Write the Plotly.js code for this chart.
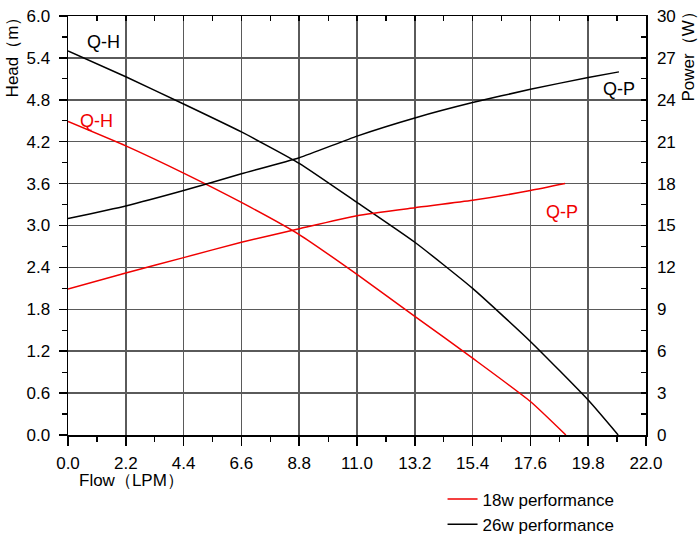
<!DOCTYPE html>
<html>
<head>
<meta charset="utf-8">
<script src="https://cdn.plot.ly/plotly-3.0.1.min.js"></script>
<style>html,body{margin:0;padding:0;background:#fff;}#chart{width:700px;height:555px;}</style>
</head>
<body>
<div id="chart"></div>
<script>
// ---- data ----
const flowH18  = [0, 2.2, 4.4, 6.6, 8.8, 11.0, 13.2, 15.4, 17.6, 18.95];
const head18   = [4.49, 4.14, 3.75, 3.33, 2.87, 2.30, 1.70, 1.10, 0.48, 0];
const flowP18  = [0, 2.2, 4.4, 6.6, 8.8, 11.0, 13.2, 15.4, 17.6, 18.92];
const power18  = [10.45, 11.6, 12.7, 13.8, 14.77, 15.7, 16.27, 16.8, 17.5, 18.0];

const flowH26  = [0, 2.2, 4.4, 6.6, 8.8, 11.0, 13.2, 15.4, 17.6, 19.8, 20.94];
const head26   = [5.50, 5.13, 4.74, 4.34, 3.89, 3.33, 2.76, 2.10, 1.34, 0.50, 0];
const flowP26  = [0, 2.2, 4.4, 6.6, 8.8, 11.0, 13.2, 15.4, 17.6, 19.8, 20.97];
const power26  = [15.5, 16.4, 17.5, 18.7, 19.85, 21.4, 22.7, 23.8, 24.75, 25.6, 26.0];

const seriesNames = ["18w performance", "26w performance"];
const curveLabels = ["Q-H", "Q-P"];
const xTitle = "Flow（LPM）";
const yTitle = "Head（m）";
const y2Title = "Power（W）";

// ---- styles ----
const RED = "rgb(240,0,0)";
const BLACK = "#000";
const FONT = "Liberation Sans, Arial, sans-serif";
const GRID = "#5a5a5a";
const SMOOTH = {shape: "spline", smoothing: 0.5};

const traces = [
  {x: flowH18, y: head18, type: "scatter", mode: "lines", name: seriesNames[0],
   line: Object.assign({color: RED, width: 1.5}, SMOOTH), legendgroup: "a", xaxis: "x", yaxis: "y"},
  {x: flowP18, y: power18, type: "scatter", mode: "lines", name: seriesNames[0],
   line: Object.assign({color: RED, width: 1.5}, SMOOTH), legendgroup: "a", showlegend: false, xaxis: "x", yaxis: "y2"},
  {x: flowH26, y: head26, type: "scatter", mode: "lines", name: seriesNames[1],
   line: Object.assign({color: BLACK, width: 1.5}, SMOOTH), legendgroup: "b", xaxis: "x", yaxis: "y"},
  {x: flowP26, y: power26, type: "scatter", mode: "lines", name: seriesNames[1],
   line: Object.assign({color: BLACK, width: 1.5}, SMOOTH), legendgroup: "b", showlegend: false, xaxis: "x", yaxis: "y2"},
  // invisible trace to activate the top mirror axis
  {x: [0], y: [0], type: "scatter", mode: "markers", marker: {opacity: 0}, showlegend: false,
   hoverinfo: "skip", xaxis: "x2", yaxis: "y"}
];

const layout = {
  width: 700, height: 555,
  paper_bgcolor: "#fff", plot_bgcolor: "#fff",
  margin: {l: 68, r: 54, t: 16, b: 117},
  font: {family: FONT, size: 17, color: "#000"},
  showlegend: true,
  legend: {x: 0.648, y: -0.111, xanchor: "left", yanchor: "top",
           font: {family: FONT, size: 17, color: "#000"}, bgcolor: "rgba(0,0,0,0)",
           tracegroupgap: 0},
  xaxis: {range: [0, 22], dtick: 2.2, tick0: 0, tickformat: ".1f",
          showline: true, linecolor: "#000", linewidth: 1.5,
          ticks: "outside", ticklen: 9, tickwidth: 1.5, tickcolor: "#000",
          minor: {dtick: 1.1, tick0: 0, ticks: "outside", ticklen: 5, tickcolor: "#000", tickwidth: 1.2, showgrid: false},
          showgrid: true, gridcolor: GRID, gridwidth: 1.5, zeroline: false,
          ticklabelstandoff: 3, fixedrange: true},
  xaxis2: {overlaying: "x", side: "top", range: [0, 22], dtick: 2.2, tick0: 0,
           showline: true, linecolor: "#000", linewidth: 1.5,
           ticks: "inside", ticklen: 5, tickwidth: 1.5, tickcolor: "#000",
           minor: {dtick: 1.1, tick0: 0, ticks: "inside", ticklen: 5, tickcolor: "#000", tickwidth: 1.2, showgrid: false},
           showticklabels: false, showgrid: false, zeroline: false},
  yaxis: {range: [0, 6], dtick: 0.6, tick0: 0, tickformat: ".1f",
          showline: true, linecolor: "#000", linewidth: 1.5,
          ticks: "outside", ticklen: 8, tickwidth: 1.5, tickcolor: "#000",
          minor: {dtick: 0.3, tick0: 0, ticks: "outside", ticklen: 5, tickcolor: "#000", tickwidth: 1.2, showgrid: false},
          showgrid: true, gridcolor: GRID, gridwidth: 1.5, zeroline: false,
          ticklabelstandoff: 5},
  yaxis2: {overlaying: "y", side: "right", range: [0, 30], dtick: 3, tick0: 0,
           showline: true, linecolor: "#000", linewidth: 1.5,
           ticks: "inside", ticklen: 5, tickwidth: 1.5, tickcolor: "#000",
           minor: {dtick: 1.5, tick0: 0, ticks: "inside", ticklen: 5, tickcolor: "#000", tickwidth: 1.2, showgrid: false},
           showgrid: false, zeroline: false, ticklabelstandoff: 6},
  annotations: [
    {text: curveLabels[0], x: 1.35, y: 5.63, xref: "x", yref: "y", showarrow: false,
     font: {family: FONT, size: 18, color: BLACK}},
    {text: curveLabels[0], x: 1.1, y: 4.5, xref: "x", yref: "y", showarrow: false,
     font: {family: FONT, size: 18, color: RED}},
    {text: curveLabels[1], x: 20.97, y: 4.96, xref: "x", yref: "y", showarrow: false,
     font: {family: FONT, size: 18, color: BLACK}},
    {text: curveLabels[1], x: 18.82, y: 3.19, xref: "x", yref: "y", showarrow: false,
     font: {family: FONT, size: 18, color: RED}},
    {text: yTitle, x: -0.096, y: 0.912, xref: "paper", yref: "paper", textangle: -90,
     xanchor: "center", yanchor: "middle", showarrow: false, font: {family: FONT, size: 17}},
    {text: y2Title, x: 1.0727, y: 0.913, xref: "paper", yref: "paper", textangle: -90,
     xanchor: "center", yanchor: "middle", showarrow: false, font: {family: FONT, size: 17}},
    {text: xTitle, x: 0.0156, y: -0.109, xref: "paper", yref: "paper",
     xanchor: "left", yanchor: "middle", showarrow: false, font: {family: FONT, size: 17}}
  ]
};

Plotly.newPlot("chart", traces, layout, {staticPlot: true, displayModeBar: false});
</script>
</body>
</html>
